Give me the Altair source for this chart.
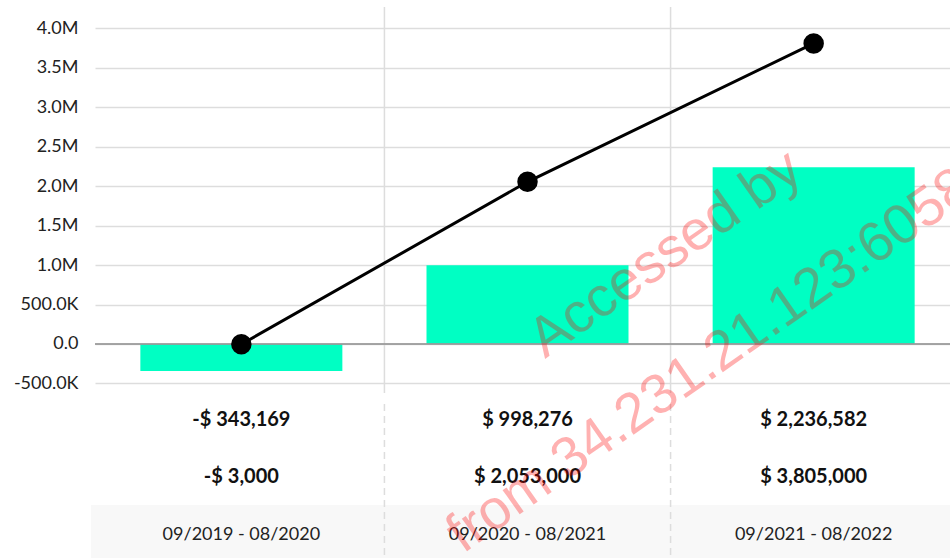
import altair as alt
import pandas as pd

# ---- data ----
periods = ["09/2019 - 08/2020", "09/2020 - 08/2021", "09/2021 - 08/2022"]
bar_values = [-343169, 998276, 2236582]
line_values = [-3000, 2053000, 3805000]
bar_labels = ["-$ 343,169", "$ 998,276", "$ 2,236,582"]
line_labels = ["-$ 3,000", "$ 2,053,000", "$ 3,805,000"]
y_ticks = [-500000, 0, 500000, 1000000, 1500000, 2000000, 2500000, 3000000, 3500000, 4000000]
separators = [0.5, 1.5]
watermark = ["Accessed by", "from 34.231.21.123:6058"]

df = pd.DataFrame({
    "idx": list(range(len(periods))),
    "period": periods,
    "bar": bar_values,
    "line": line_values,
    "bar_label": bar_labels,
    "line_label": line_labels,
})
sep_df = pd.DataFrame({"sep": separators})
one_df = pd.DataFrame({"t": [0]})

W = 855
H = 551
FONT = "Lato"

xscale = alt.Scale(domain=[-0.494, 2.459], nice=False, zero=False)
yscale = alt.Scale(domain=[-2709000, 4266000], nice=False, zero=False)

label_expr = (
    "datum.value == 0 ? '0.0' : "
    "(datum.value < 0 ? '-' : '') + "
    "(abs(datum.value) >= 1000000 ? format(abs(datum.value)/1000000, '.1f') + 'M' "
    ": format(abs(datum.value)/1000, '.1f') + 'K')"
)

base = alt.Chart(df)

band = alt.Chart(one_df).mark_rect(color="#f8f8f8").encode(
    x=alt.value(-4), x2=alt.value(W + 10), y=alt.value(498), y2=alt.value(H)
)

bars = base.mark_bar(color="#00FFC3", size=202).encode(
    x=alt.X("idx:Q", scale=xscale, axis=None),
    y=alt.Y("bar:Q", scale=yscale,
            axis=alt.Axis(values=y_ticks, labelExpr=label_expr, ticks=False, domain=False,
                          grid=True, gridColor="#dddddd", gridWidth=1.5,
                          labelFontSize=18, labelFont=FONT, labelColor="#222222",
                          labelPadding=17, title=None)),
)

vsep = alt.Chart(sep_df).mark_rule(color="#dddddd", strokeWidth=1.5).encode(
    x=alt.X("sep:Q", scale=xscale, axis=None),
    y=alt.value(0), y2=alt.value(386),
)
dsep = alt.Chart(sep_df).mark_rule(color="#dddddd", strokeWidth=1.5, strokeDash=[7, 5]).encode(
    x=alt.X("sep:Q", scale=xscale, axis=None),
    y=alt.value(397), y2=alt.value(H),
)

zero = base.mark_rule(color="#999999", strokeWidth=1.2).encode(
    y=alt.datum(0, scale=yscale),
)

line = base.mark_line(color="black", strokeWidth=3).encode(
    x=alt.X("idx:Q", scale=xscale, axis=None),
    y=alt.Y("line:Q", scale=yscale),
)
pts = base.mark_point(filled=True, color="black", size=420, opacity=1, shape="circle").encode(
    x=alt.X("idx:Q", scale=xscale, axis=None),
    y=alt.Y("line:Q", scale=yscale),
)

row1 = base.mark_text(font=FONT, fontSize=20, fontWeight="bold", color="#111111").encode(
    x=alt.X("idx:Q", scale=xscale, axis=None), y=alt.value(413), text="bar_label:N"
)
row2 = base.mark_text(font=FONT, fontSize=20, fontWeight="bold", color="#111111").encode(
    x=alt.X("idx:Q", scale=xscale, axis=None), y=alt.value(470), text="line_label:N"
)
row3 = base.mark_text(font=FONT, fontSize=18, color="#222222").encode(
    x=alt.X("idx:Q", scale=xscale, axis=None), y=alt.value(528), text="period:N"
)
wm1 = alt.Chart(one_df).mark_text(
    font="Liberation Sans", fontSize=56, color="red", opacity=0.3, angle=325,
    align="left", baseline="alphabetic", text=watermark[0]
).encode(x=alt.value(450), y=alt.value(352))
wm2 = alt.Chart(one_df).mark_text(
    font="Liberation Sans", fontSize=56, color="red", opacity=0.3, angle=325,
    align="left", baseline="alphabetic", text=watermark[1]
).encode(x=alt.value(368), y=alt.value(547))

chart = alt.layer(
    band, bars, vsep, dsep, zero, line, pts, row1, row2, row3, wm1, wm2
).properties(
    width=W, height=H,
    autosize=alt.AutoSizeParams(type="none"),
    padding={"left": 95, "top": 7, "right": 0, "bottom": 0},
).configure(background="white").configure_view(stroke=None)

chart.save("out.html", embed_options={"renderer": "svg", "actions": False})
